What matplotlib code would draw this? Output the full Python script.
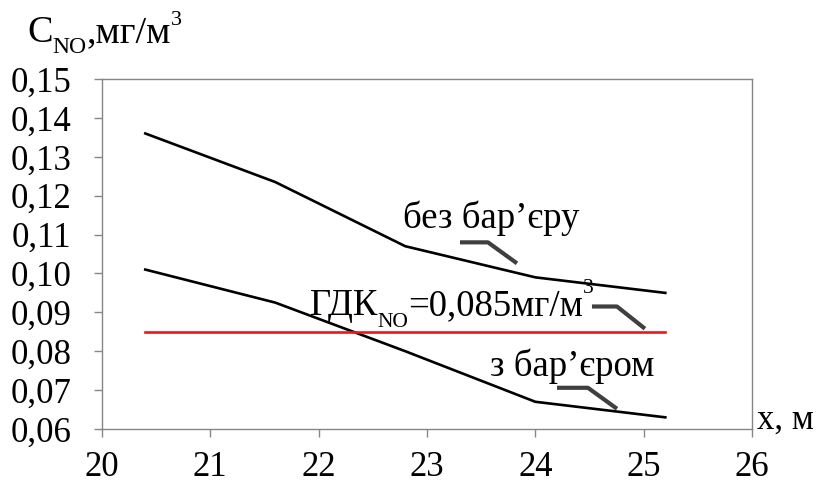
#!/usr/bin/env python3

"""NO concentration vs distance, with and without a barrier."""

import matplotlib
matplotlib.use('Agg')
import matplotlib.pyplot as plt

plt.rcParams['font.family'] = ['Liberation Serif', 'DejaVu Serif']

# distance, m
x = [20.4, 21.6, 22.8, 24.0, 25.2]
no_barrier = [0.136, 0.1235, 0.107, 0.099, 0.095]
with_barrier = [0.101, 0.0925, 0.080, 0.067, 0.063]
limit = 0.085

x_ticks = [20, 21, 22, 23, 24, 25, 26]
y_ticks = [0.06, 0.07, 0.08, 0.09, 0.10, 0.11, 0.12, 0.13, 0.14, 0.15]

SPINE = '#868686'
LEADER = '#3f3f3f'
FS = 25


def rich_text(ax, x, y, parts, coords='data'):
    """Chain text pieces on one baseline; parts are (text, size, rise in pt)."""
    first, size, rise = parts[0]
    prev = ax.annotate(first, xy=(x, y), xycoords=coords, xytext=(0, rise),
                       textcoords='offset points', fontsize=size,
                       va='baseline', annotation_clip=False)
    for s, size, rise in parts[1:]:
        prev = ax.annotate(s, xy=(1, y), xycoords=(prev, coords),
                           xytext=(0, rise), textcoords='offset points',
                           fontsize=size, va='baseline', annotation_clip=False)


fig = plt.figure(figsize=(8.17, 4.83), dpi=100)
ax = fig.add_axes([0.1248, 0.1118, 0.7956, 0.7246])

ax.plot(x, no_barrier, color='black', lw=1.9, solid_joinstyle='round')
ax.plot(x, with_barrier, color='black', lw=1.9, solid_joinstyle='round')
ax.plot([x[0], x[-1]], [limit, limit], color='#e31b1b', lw=1.9)

ax.set_xlim(20, 26)
ax.set_ylim(0.06, 0.15)
ax.set_xticks(x_ticks)
ax.set_xticklabels([str(t) for t in x_ticks])
ax.set_yticks(y_ticks)
ax.set_yticklabels([('%.2f' % t).replace('.', ',') for t in y_ticks])

for s in ax.spines.values():
    s.set_color(SPINE)
    s.set_linewidth(1.0)
ax.tick_params(axis='both', direction='out', length=6, width=1.0,
               color=SPINE, labelsize=FS)
ax.tick_params(axis='x', pad=10)
ax.tick_params(axis='y', pad=16)

# labels and leader lines
ax.text(22.78, 0.1116, 'без бар’єру', fontsize=26.5, va='baseline')
ax.plot([23.305, 23.563, 23.831], [0.108, 0.108, 0.1026],
        color=LEADER, lw=3.0, solid_capstyle='butt')

rich_text(ax, 21.92, 0.0892, [('ГДК', 26.5, 0), ('NO', 15.5, -8),
                              ('=0,085мг/м', 26.5, 0), ('3', 15.5, 16)])
ax.plot([24.523, 24.754, 25.012], [0.0915, 0.0915, 0.0858],
        color=LEADER, lw=3.0, solid_capstyle='butt')

ax.text(23.58, 0.0737, 'з бар’єром', fontsize=26.5, va='baseline')
ax.plot([24.2, 24.486, 24.754], [0.0706, 0.0706, 0.0652],
        color=LEADER, lw=3.0, solid_capstyle='butt')

ax.text(26.05, 0.0600, 'x, м', fontsize=25, va='baseline', clip_on=False)

rich_text(ax, -0.1154, 1.106, [('C', 27.5, 0), ('NO', 17, -8),
                               (',мг/м', 27.5, 0), ('3', 16, 12)],
          coords='axes fraction')

fig.savefig('out.png', dpi=100)
